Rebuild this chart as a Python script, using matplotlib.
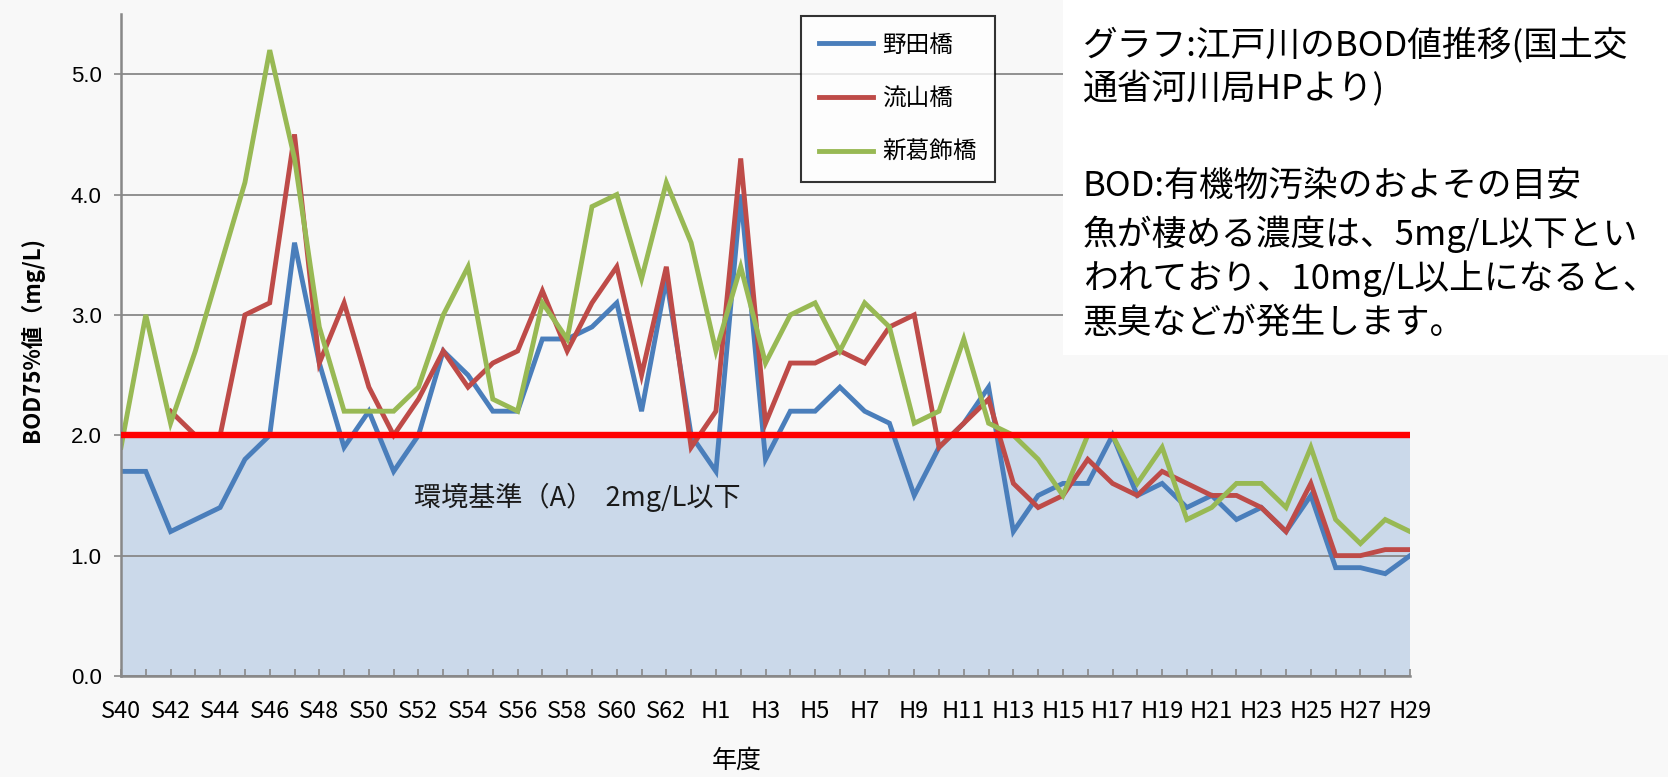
import numpy as np
import matplotlib
matplotlib.use("Agg")
import matplotlib.pyplot as plt
from matplotlib.patches import Rectangle

plt.rcParams['font.family'] = ['Noto Sans CJK JP', 'DejaVu Sans']

# ---------------- data ----------------
years = ([f"S{y}" for y in range(40, 64)] + [f"H{y}" for y in range(1, 30)])
tick_labels = [lab if i % 2 == 0 else "" for i, lab in enumerate(years)]

noda = [1.7, 1.7, 1.2, 1.3, 1.4, 1.8, 2.0, 3.6, 2.6, 1.9, 2.2, 1.7, 2.0,
        2.7, 2.5, 2.2, 2.2, 2.8, 2.8, 2.9, 3.1, 2.2, 3.3, 2.0,
        1.7, 4.0, 1.8, 2.2, 2.2, 2.4, 2.2, 2.1, 1.5, 1.9, 2.1, 2.4, 1.2,
        1.5, 1.6, 1.6, 2.0, 1.5, 1.6, 1.4, 1.5, 1.3, 1.4, 1.2, 1.5, 0.9,
        0.9, 0.85, 1.0]
nagareyama = [np.nan, np.nan, 2.2, 2.0, 2.0, 3.0, 3.1, 4.5, 2.6, 3.1, 2.4, 2.0, 2.3,
              2.7, 2.4, 2.6, 2.7, 3.2, 2.7, 3.1, 3.4, 2.5, 3.4, 1.9,
              2.2, 4.3, 2.1, 2.6, 2.6, 2.7, 2.6, 2.9, 3.0, 1.9, 2.1, 2.3, 1.6,
              1.4, 1.5, 1.8, 1.6, 1.5, 1.7, 1.6, 1.5, 1.5, 1.4, 1.2, 1.6, 1.0,
              1.0, 1.05, 1.05]
shinkatsushika = [1.9, 3.0, 2.1, 2.7, 3.4, 4.1, 5.2, 4.3, 2.9, 2.2, 2.2, 2.2, 2.4,
                  3.0, 3.4, 2.3, 2.2, 3.1, 2.8, 3.9, 4.0, 3.3, 4.1, 3.6,
                  2.7, 3.4, 2.6, 3.0, 3.1, 2.7, 3.1, 2.9, 2.1, 2.2, 2.8, 2.1, 2.0,
                  1.8, 1.5, 2.0, 2.0, 1.6, 1.9, 1.3, 1.4, 1.6, 1.6, 1.4, 1.9, 1.3,
                  1.1, 1.3, 1.2]
series_names = ["野田橋", "流山橋", "新葛飾橋"]
standard = 2.0
y_ticks = [0.0, 1.0, 2.0, 3.0, 4.0, 5.0]

# ---------------- figure ----------------
W, H = 1668, 777
fig = plt.figure(figsize=(W / 100, H / 100), dpi=100)
fig.patch.set_facecolor('#f8f8f8')

left, right, bottom, top = 121, 1410, 676, 14
ax = fig.add_axes([left / W, (H - bottom) / H, (right - left) / W, (bottom - top) / H])
ax.set_facecolor('none')

x = np.arange(len(years))
ax.set_xlim(0, len(years) - 1)
ax.set_ylim(0, 5.5)

# shaded standard area
ax.axhspan(0, standard, color='#cbd9ea', zorder=0.2, lw=0)

colors = ['#4a7ebb', '#be4b48', '#98b954']
for vals, name, c in zip([noda, nagareyama, shinkatsushika], series_names, colors):
    ax.plot(x, vals, color=c, lw=3.5, label=name, zorder=2, solid_joinstyle='miter')

ax.axhline(standard, color='#ff0000', lw=4.6, zorder=3)

ax.text(11.8, 1.48, "環境基準（A）  2mg/L以下", fontsize=19.5, color='#1a1a1a',
        va='center', ha='left', zorder=4)

# grid & axes
ax.set_yticks(y_ticks)
ax.set_yticklabels([f"{v:.1f}" for v in y_ticks], family=['Liberation Sans', 'DejaVu Sans'],
                   fontsize=16)
ax.yaxis.grid(True, color='#888888', lw=1.3)
ax.set_axisbelow(True)
ax.set_xticks(x)
ax.set_xticklabels(tick_labels, family=['Liberation Sans Narrow', 'Noto Sans CJK JP'],
                   fontsize=17)
ax.tick_params(axis='x', direction='in', length=5, width=1.2, color='#888888', pad=17)
ax.tick_params(axis='y', direction='out', length=5, width=1.2, color='#888888', pad=9)
for s in ['top', 'right']:
    ax.spines[s].set_visible(False)
for s in ['left', 'bottom']:
    ax.spines[s].set_color('#888888')
    ax.spines[s].set_linewidth(1.8)

leg = ax.legend(loc='upper left', bbox_to_anchor=(801 / W, 1 - 16 / H),
                bbox_transform=fig.transFigure, fontsize=17, frameon=True,
                fancybox=False, edgecolor='black', handlelength=2.3,
                handletextpad=0.4, labelspacing=1.3, borderpad=0.75,
                borderaxespad=0)
leg.get_frame().set_linewidth(1.5)
leg.get_frame().set_facecolor('white')
leg.set_zorder(6)

# white box with explanation text
fig.patches.append(Rectangle((1063 / W, 1 - 355 / H), 1 - 1063 / W, 355 / H,
                             transform=fig.transFigure, facecolor='white',
                             edgecolor='none', zorder=1))
lines = [("グラフ:江戸川のBOD値推移(国土交", 45),
         ("通省河川局HPより)", 89),
         ("BOD:有機物汚染のおよその目安", 186),
         ("魚が棲める濃度は、5mg/L以下とい", 234),
         ("われており、10mg/L以上になると、", 279),
         ("悪臭などが発生します。", 323)]
for t, yy in lines:
    fig.text(1083 / W, 1 - yy / H, t, fontsize=25, va='center', ha='left',
             color='black', zorder=2)

# axis titles
fig.text(32 / W, 1 - 339 / H, "BOD75%値（mg/L)", rotation=90, fontsize=16,
         fontweight='bold', va='center', ha='center')
fig.text(737 / W, 1 - 761 / H, "年度", fontsize=18, va='center', ha='center')

fig.savefig("out.png", dpi=100, facecolor=fig.get_facecolor())
